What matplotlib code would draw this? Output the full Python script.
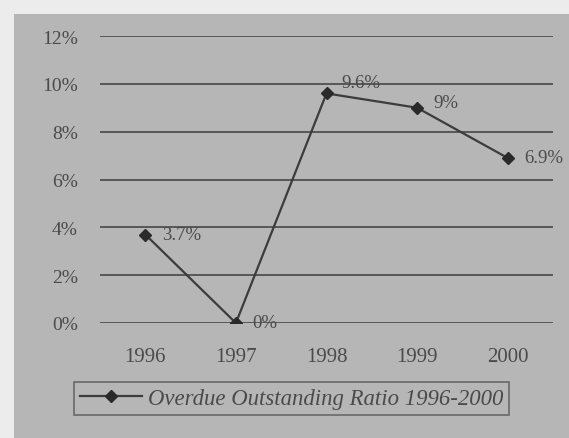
import matplotlib

matplotlib.use("Agg")
import matplotlib.pyplot as plt
from matplotlib.patches import Rectangle

years = ["1996", "1997", "1998", "1999", "2000"]
ratio = [3.7, 0.0, 9.6, 9.0, 6.9]
point_labels = ["3.7%", "0%", "9.6%", "9%", "6.9%"]
label_offsets = [(12, 0), (12, 0), (11, 8), (12, 4), (12, 0)]
y_ticks = [0, 2, 4, 6, 8, 10, 12]
series_name = "Overdue Outstanding Ratio 1996-2000"

INK = "#3c3c3c"
TEXT = "#4a4a4a"
PANEL = "#b6b6b6"

plt.rcParams["font.family"] = ["Liberation Serif", "DejaVu Serif"]

fig = plt.figure(figsize=(5.69, 4.39), dpi=100, facecolor="#ececec")
# grey chart panel behind everything
fig.patches.append(Rectangle((14 / 569, 0), 1, (439 - 15) / 439, transform=fig.transFigure,
                             facecolor=PANEL, edgecolor="none", zorder=-10))

ax = fig.add_axes([100 / 569, 115 / 439, 453 / 569, 287 / 439])
ax.set_facecolor("none")
ax.set_zorder(2)
x = range(len(years))

for v in y_ticks:
    ax.axhline(v, color="#505050", lw=1.3, zorder=1)

line, = ax.plot(x, ratio, color=INK, lw=1.6, marker="D", ms=6.5, mfc="#2a2a2a",
                mec="#2a2a2a", zorder=3, label=series_name)
for i, (v, txt) in enumerate(zip(ratio, point_labels)):
    ax.annotate(txt, (i, v), xytext=label_offsets[i], textcoords="offset points",
                ha="left", va="center", fontsize=13.5, color=TEXT)

ax.set_xlim(-0.5, len(years) - 0.5)
ax.set_ylim(0, 12)
ax.set_xticks(list(x), years)
ax.set_yticks(y_ticks, [f"{v}%" for v in y_ticks])
ax.tick_params(length=0, colors=TEXT)
ax.tick_params(axis="y", pad=16, labelsize=14)
ax.tick_params(axis="x", pad=17, labelsize=15)
for s in ax.spines.values():
    s.set_visible(False)

leg = fig.legend(handles=[line], loc="lower left", bbox_to_anchor=(63 / 569, 12 / 439),
                 frameon=True, fancybox=False, edgecolor="#555555", facecolor="none",
                 handlelength=2.7, handletextpad=0.3, borderpad=0.25,
                 prop={"style": "italic", "size": 16.4})
for t in leg.get_texts():
    t.set_color(TEXT)
leg.get_frame().set_linewidth(1.2)

fig.savefig("out.png", dpi=100, facecolor=fig.get_facecolor())
